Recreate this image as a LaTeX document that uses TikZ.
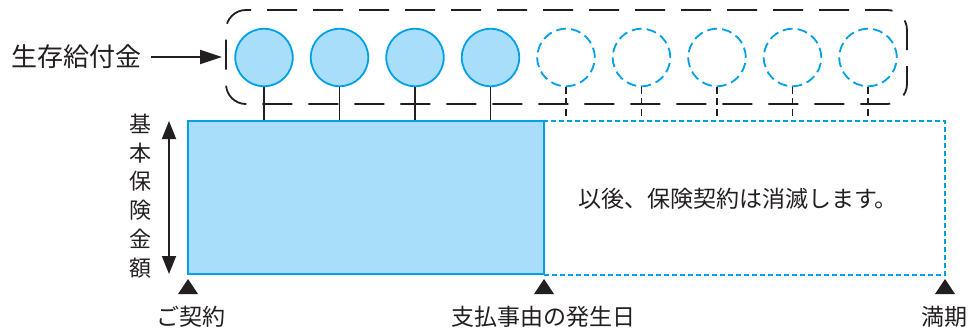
\documentclass[tikz,border=0pt]{standalone}
\usepackage{fontspec}
\setmainfont{Noto Sans CJK JP}
\usetikzlibrary{arrows.meta}
\definecolor{ink}{HTML}{231F20}
\definecolor{cyanline}{HTML}{00A0E9}
\definecolor{cyanfill}{HTML}{A8DEF9}
\tikzset{
  paid/.style={circle, minimum size=57.5pt, inner sep=0pt, draw=cyanline, fill=cyanfill, line width=1.8pt},
  future/.style={circle, minimum size=57.5pt, inner sep=0pt, draw=cyanline, line width=1.8pt, dash pattern=on 10pt off 5pt},
  stemsolid/.style={draw=ink, line width=1.8pt},
  stemdash/.style={draw=ink, line width=1.8pt, dash pattern=on 7pt off 4pt},
  lbl/.style={text=ink, inner sep=0pt, font=\fontsize{23}{28}\selectfont},
  marker/.style={fill=ink},
}
\begin{document}
\begin{tikzpicture}[x=1pt,y=-1pt]
\useasboundingbox (0,0) rectangle (968,332);
% group box
\node[draw=ink, line width=1.8pt, dash pattern=on 30pt off 16pt, dash phase=8pt, rounded corners=20pt,
      minimum width=681pt, minimum height=94pt, inner sep=0pt] (grp) at (566.5,57) {};
% dashed remainder rectangle
\node[draw=cyanline, line width=1.3pt, dash pattern=on 5pt off 3pt, minimum width=401pt, minimum height=154pt, inner sep=0pt] (rest) at (744.5,198) {};
% base rectangle
\node[draw=cyanline, fill=cyanfill, line width=1.8pt, minimum width=356pt, minimum height=153pt, inner sep=0pt] (base) at (366,197.5) {};
% circles
\node[paid] (c1) at (264,57.5) {};
\node[paid] (c2) at (339.5,57.5) {};
\node[paid] (c3) at (415,57.5) {};
\node[paid] (c4) at (490.5,57.5) {};
\node[future] (c5) at (566,57.5) {};
\node[future] (c6) at (641.5,57.5) {};
\node[future] (c7) at (717,57.5) {};
\node[future] (c8) at (792.5,57.5) {};
\node[future] (c9) at (868,57.5) {};
\foreach \c in {c1,c2,c3,c4}{\draw[stemsolid] (\c.south) -- (\c.south |- base.north);}
\foreach \c in {c5,c6,c7,c8,c9}{\draw[stemdash] (\c.south) -- ++(0,30);}
% survival benefit label
\node[lbl, font=\fontsize{26}{30}\selectfont] (sv) at (76,57) {生存給付金};
\coordinate (svend) at (222,57);
\draw[ink, line width=1.8pt, -{Triangle[length=22pt,width=14pt]}] (sv.east) ++(10,0) -- (svend);
% basic insured amount
\coordinate (ba1) at (169,121);
\coordinate (ba2) at (169,274);
\draw[ink, line width=1.8pt, {Triangle[length=18pt,width=14pt]}-{Triangle[length=18pt,width=14pt]}] (ba1) -- (ba2);
\node[lbl, font=\fontsize{22}{28.8}\selectfont, align=center] (bal) at (140,196) {基\\本\\保\\険\\金\\額};
% text in remainder
\node[lbl] (msg) at (738,199) {以後、保険契約は消滅します。};
% markers
\coordinate (t1) at (188,279);
\coordinate (t2) at (544,279);
\coordinate (t3) at (945,279);
\foreach \t in {t1,t2,t3}{\fill[marker] (\t) -- ++(10,15) -- ++(-20,0) -- cycle;}
\node[lbl] (l1) at (191,317) {ご契約};
\node[lbl] (l2) at (543,317) {支払事由の発生日};
\node[lbl] (l3) at (944,317) {満期};
\end{tikzpicture}
\end{document}
